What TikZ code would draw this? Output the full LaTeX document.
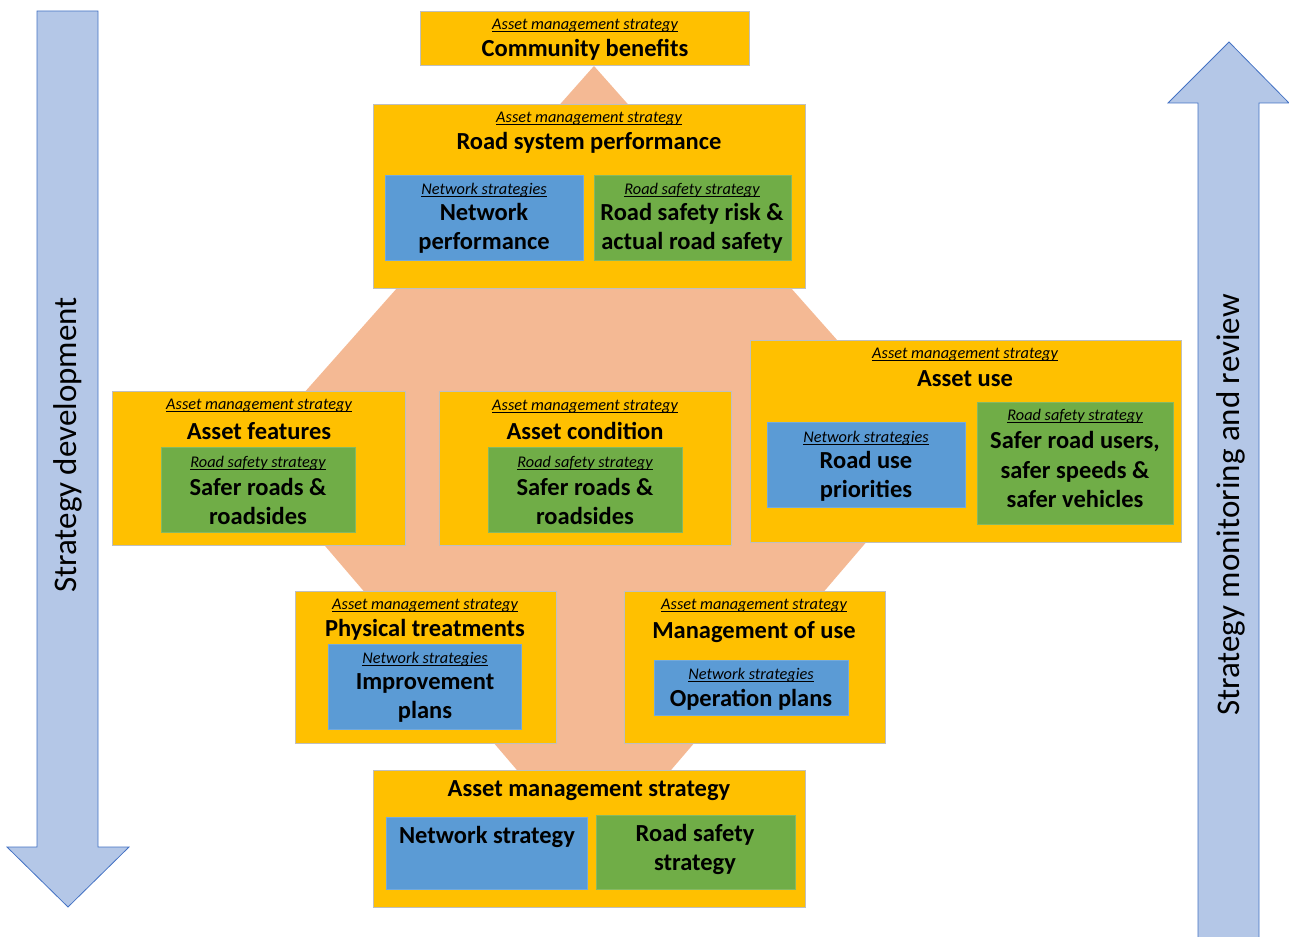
\documentclass[tikz,border=0pt]{standalone}
\usepackage{fontspec}
\setmainfont{Carlito}

\definecolor{amsorange}{HTML}{FFC000}
\definecolor{netblue}{HTML}{5B9BD5}
\definecolor{rsgreen}{HTML}{70AD47}
\definecolor{flowsalmon}{HTML}{F4B994}
\definecolor{arrowfill}{HTML}{B4C7E7}
\definecolor{arrowline}{HTML}{4472C4}
\definecolor{boxline}{HTML}{BFBFBF}

\tikzstyle{amsbox}=[rectangle,draw=boxline,line width=0.8pt,fill=amsorange,inner sep=0pt]
\tikzstyle{netbox}=[rectangle,draw=netblue!85!white,line width=0.6pt,fill=netblue,inner sep=0pt]
\tikzstyle{rsbox}=[rectangle,draw=rsgreen!85!white,line width=0.6pt,fill=rsgreen,inner sep=0pt]
\tikzstyle{subtitle}=[font=\fontsize{16.3}{19}\selectfont\itshape,inner sep=0pt,yshift=-2pt]
\tikzstyle{underline}=[line width=0.7pt]
\tikzstyle{title}=[font=\fontsize{24.5}{29.5}\selectfont\bfseries,align=center,inner sep=0pt,yshift=-2pt]
\tikzstyle{bigarrow}=[draw=arrowline,line width=0.8pt,fill=arrowfill]
\tikzstyle{arrowlabel}=[font=\fontsize{33}{40}\selectfont,rotate=90,inner sep=0pt]

\begin{document}
\begin{tikzpicture}[x=1pt,y=-1pt]
      \useasboundingbox (0,0) rectangle (1289,936);
      %diamond
      \fill[flowsalmon] (594,66) -- (940,456) -- (594,860) -- (248,456) -- cycle;
      %arrows
      \draw[bigarrow] (37,11) -- (98,11) -- (98,847) -- (129,847) -- (68,907) -- (7,847) -- (37,847) -- cycle;
      \draw[bigarrow] (1198,940) -- (1198,103) -- (1168,103) -- (1229,42) -- (1289,103) -- (1259,103) -- (1259,940);
      \node[arrowlabel] (dev) at (68,445) {Strategy development};
      \node[arrowlabel] (review) at (1231,505) {Strategy monitoring and review};
      %boxes
      \foreach \nodename/\x/\y/\w/\h/\kind in {
        cb/584.5/38/329/54/amsbox,
        rsp/589/196/432/184/amsbox,
        af/258.5/468/293/154/amsbox,
        ac/585/468/292/154/amsbox,
        au/965.5/441/431/202/amsbox,
        pt/425.5/667/261/152/amsbox,
        mu/754.5/667/261/152/amsbox,
        ams/589/838.5/432/137/amsbox,
        rsp-net/484/217.5/198/85/netbox,
        rsp-rs/692.5/217.5/197/85/rsbox,
        af-rs/258/489.5/194/85/rsbox,
        ac-rs/585/489.5/194/85/rsbox,
        au-net/866/464.5/198/85/netbox,
        au-rs/1075/463/196/122/rsbox,
        pt-net/424.5/686.5/193/85/netbox,
        mu-net/751/687.5/194/55/netbox,
        ams-net/486.5/853/201/72/netbox,
        ams-rs/695.5/852/199/74/rsbox}
      {
        \node[\kind, minimum width=\w*1pt, minimum height=\h*1pt] (\nodename) at (\x,\y) {};
      };
      %subtitles
      \foreach \nodename/\x/\y/\txt in {
        cb-sub/585/24/Asset management strategy,
        rsp-sub/589/117/Asset management strategy,
        rsp-net-sub/484/188/Network strategies,
        rsp-rs-sub/692/188/Road safety strategy,
        af-sub/259/404/Asset management strategy,
        af-rs-sub/258/461/Road safety strategy,
        ac-sub/585/405/Asset management strategy,
        ac-rs-sub/585/461/Road safety strategy,
        au-sub/965/353/Asset management strategy,
        au-net-sub/866/436/Network strategies,
        au-rs-sub/1075/414/Road safety strategy,
        pt-sub/425/604/Asset management strategy,
        pt-net-sub/425/657/Network strategies,
        mu-sub/754/604/Asset management strategy,
        mu-net-sub/751/673/Network strategies}
      {
        \node[subtitle] (\nodename) at (\x,\y) {\txt};
        \draw[underline] ([yshift=-2pt]\nodename.base west) -- ([yshift=-2pt]\nodename.base east);
      };
      %titles
      \foreach \nodename/\x/\y/\txt in {
        cb-ttl/585/48/Community benefits,
        rsp-ttl/589/141/Road system performance,
        rsp-net-ttl/484/226.5/{Network\\ performance},
        rsp-rs-ttl/692/226.5/{Road safety risk \&\\ actual road safety},
        af-ttl/259/429/Asset features,
        af-rs-ttl/258/499.5/{Safer roads \&\\ roadsides},
        ac-ttl/585/429/Asset condition,
        ac-rs-ttl/585/499.5/{Safer roads \&\\ roadsides},
        au-ttl/965/377/Asset use,
        au-net-ttl/866/474.5/{Road use\\ priorities},
        au-rs-ttl/1075/467.5/{Safer road users,\\ safer speeds \&\\ safer vehicles},
        pt-ttl/425/628/Physical treatments,
        pt-net-ttl/425/696/{Improvement\\ plans},
        mu-ttl/754/630/Management of use,
        mu-net-ttl/751/698/Operation plans,
        ams-ttl/589/789/Asset management strategy,
        ams-net-ttl/487/835/Network strategy,
        ams-rs-ttl/695/847.5/{Road safety\\ strategy}}
      {
        \node[title] (\nodename) at (\x,\y) {\txt};
      };
\end{tikzpicture}
\end{document}
